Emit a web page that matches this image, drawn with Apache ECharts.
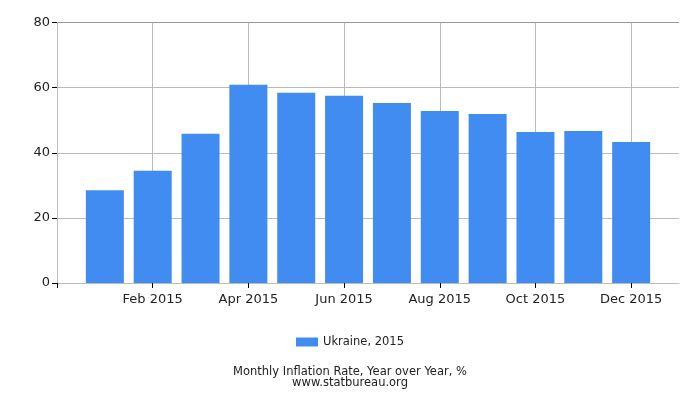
<!DOCTYPE html>
<html>
<head>
<meta charset="utf-8">
<script src="https://cdn.jsdelivr.net/npm/echarts@6/dist/echarts.min.js"></script>
<style>
  html, body { margin: 0; padding: 0; background: #fff; }
  #chart { width: 700px; height: 400px; }
</style>
</head>
<body>
<div id="chart"></div>
<script>
const months = ['Jan 2015', 'Feb 2015', 'Mar 2015', 'Apr 2015', 'May 2015', 'Jun 2015',
  'Jul 2015', 'Aug 2015', 'Sep 2015', 'Oct 2015', 'Nov 2015', 'Dec 2015']
const inflation = [28.5, 34.5, 45.8, 60.9, 58.4, 57.5, 55.3, 52.8, 51.9, 46.4, 46.7, 43.3]
const yTicks = [0, 20, 40, 60, 80]
const xTicks = [0, 2, 4, 6, 8, 10, 12]

const font = 'DejaVu Sans, Verdana, sans-serif'
const chart = echarts.init(document.getElementById('chart'), null, { renderer: 'canvas' })

chart.setOption({
  animation: false,
  title: {
    text: 'Monthly Inflation Rate, Year over Year, %\nwww.statbureau.org',
    left: 'center',
    top: 362,
    textStyle: { fontFamily: font, fontSize: 11.5, fontWeight: 'normal', color: '#222', lineHeight: 11 },
  },
  legend: {
    top: 331,
    left: 'center',
    itemWidth: 22,
    itemHeight: 9,
    itemGap: 4,
    icon: 'rect',
    textStyle: { fontFamily: font, fontSize: 11.5, color: '#222' },
  },
  grid: { left: 57, right: 21, top: 22.5, bottom: 117 },
  xAxis: {
    type: 'value',
    min: 0,
    max: months.length + 1,
    interval: 2,
    axisLine: { show: true, lineStyle: { color: '#bbb' } },
    axisTick: { show: true, length: 5, lineStyle: { color: '#000' }, customValues: xTicks },
    axisLabel: {
      fontFamily: font, fontSize: 13, color: '#222', margin: 10,
      formatter: v => (v > 0 && v % 2 === 0 && v <= months.length) ? months[v - 1] : '',
    },
    splitLine: { show: true, lineStyle: { color: '#bbb' } },
  },
  yAxis: {
    type: 'value',
    min: yTicks[0],
    max: yTicks[yTicks.length - 1],
    interval: 20,
    axisLine: { show: true, lineStyle: { color: '#bbb' } },
    axisTick: { show: true, length: 5, lineStyle: { color: '#000' } },
    axisLabel: { fontFamily: font, fontSize: 13, color: '#222', margin: 7 },
    splitLine: { show: true, lineStyle: { color: ['#bbb', '#bbb', '#bbb', '#bbb', '#999'] } },
  },
  series: [{
    name: 'Ukraine, 2015',
    type: 'bar',
    barWidth: 38,
    itemStyle: { color: '#418cf0' },
    data: inflation.map((v, i) => [i + 1, v]),
  }],
})
</script>
</body>
</html>
